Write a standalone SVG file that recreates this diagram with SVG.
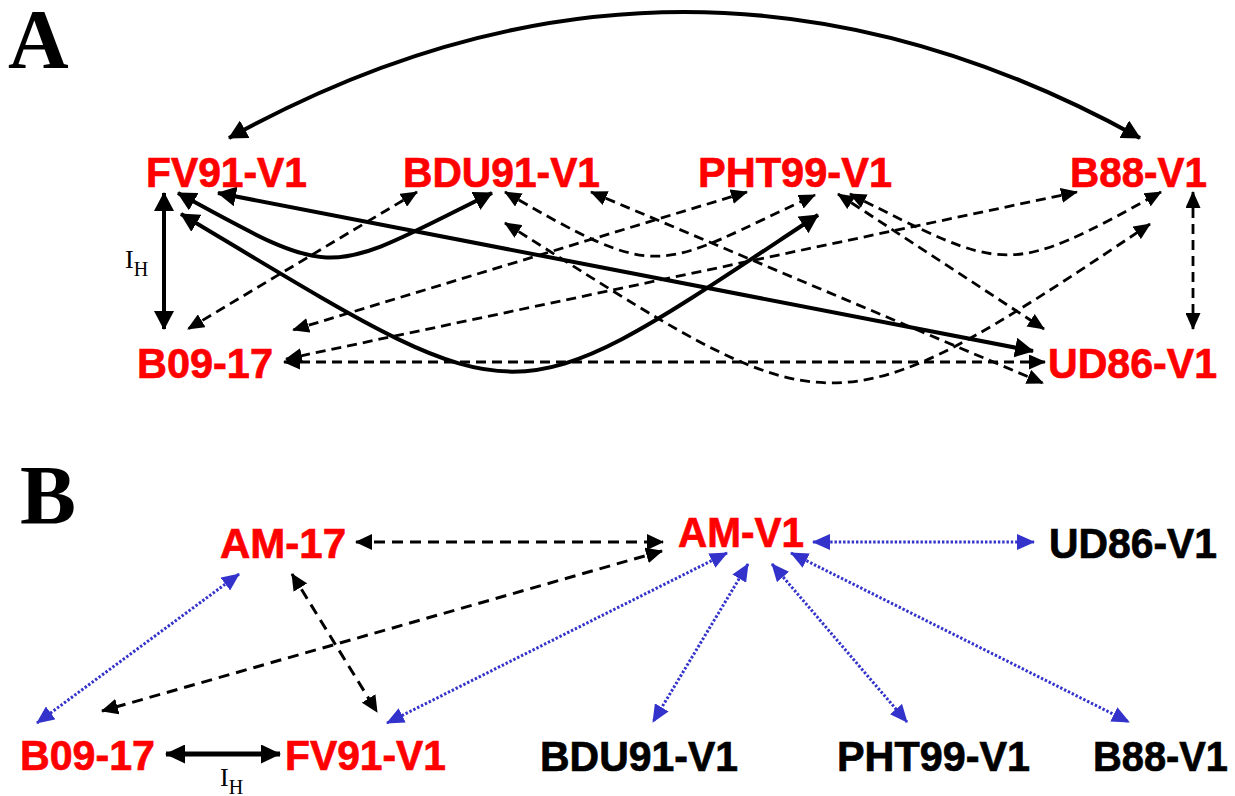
<svg xmlns="http://www.w3.org/2000/svg" width="1235" height="796" viewBox="0 0 1235 796">
<style>
.lbl{font-family:"Liberation Sans",Arial,sans-serif;font-weight:bold;font-size:42px;stroke-width:0.7}
.red{fill:#ff0000;stroke:#ff0000}
.blk{fill:#000000;stroke:#000000}
.panel{font-family:"Liberation Serif","Times New Roman",serif;font-weight:bold;font-size:84px;fill:#000}
.ih{font-family:"Liberation Serif","Times New Roman",serif;fill:#000}
.sA{fill:none;stroke:#000;stroke-width:4}
.dA{fill:none;stroke:#000;stroke-width:2.8;stroke-dasharray:10 6}
.dB{fill:none;stroke:#000;stroke-width:3;stroke-dasharray:11 7}
.bB{fill:none;stroke:#3333cc;stroke-width:3;stroke-dasharray:2.4 1.9}
.sB{fill:none;stroke:#000;stroke-width:5}
</style>
<defs>
<marker id="mSA" viewBox="0 0 19 20" refX="18" refY="10" markerWidth="19" markerHeight="20" markerUnits="userSpaceOnUse" orient="auto-start-reverse"><path d="M0,0 L19,10 L0,20 z" fill="#000"/></marker>
<marker id="mDA" viewBox="0 0 17 15" refX="16" refY="7.5" markerWidth="17" markerHeight="15" markerUnits="userSpaceOnUse" orient="auto-start-reverse"><path d="M0,0 L17,7.5 L0,15 z" fill="#000"/></marker>
<marker id="mDB" viewBox="0 0 17 16" refX="16" refY="8" markerWidth="17" markerHeight="16" markerUnits="userSpaceOnUse" orient="auto-start-reverse"><path d="M0,0 L17,8 L0,16 z" fill="#000"/></marker>
<marker id="mBB" viewBox="0 0 18 16" refX="17" refY="8" markerWidth="18" markerHeight="16" markerUnits="userSpaceOnUse" orient="auto-start-reverse"><path d="M0,0 L18,8 L0,16 z" fill="#3333cc"/></marker>
<marker id="mSB" viewBox="0 0 20 19" refX="19" refY="9.5" markerWidth="20" markerHeight="19" markerUnits="userSpaceOnUse" orient="auto-start-reverse"><path d="M0,0 L20,9.5 L0,19 z" fill="#000"/></marker>
</defs>
<rect width="1235" height="796" fill="#fff"/>

<text class="panel" x="8" y="68">A</text>
<text class="panel" x="20" y="524">B</text>

<g id="connectors">
  <!-- Panel A solid -->
  <path class="sA" d="M229,138 Q684,-114 1140,138" marker-start="url(#mSA)" marker-end="url(#mSA)"/>
  <path class="sA" d="M164,193 L164,329" marker-start="url(#mSA)" marker-end="url(#mSA)"/>
  <path class="sA" d="M178,193 C340,282 325,276 492,193" marker-start="url(#mSA)" marker-end="url(#mSA)"/>
  <path class="sA" d="M218,193 L1033,351" marker-start="url(#mSA)" marker-end="url(#mSA)"/>
  <path class="sA" d="M181,214 C532,424 501,424 818,215" marker-start="url(#mSA)" marker-end="url(#mSA)"/>
  <!-- Panel A dashed -->
  <path class="dA" d="M417,192 L188,329" marker-start="url(#mDA)" marker-end="url(#mDA)"/>
  <path class="dA" d="M747,192 L293,330" marker-start="url(#mDA)" marker-end="url(#mDA)"/>
  <path class="dA" d="M1077,192 L286,359" marker-start="url(#mDA)" marker-end="url(#mDA)"/>
  <path class="dA" d="M284,362 L1045,362" marker-start="url(#mDA)" marker-end="url(#mDA)"/>
  <path class="dA" d="M505,192 C665,285 655,269 815,195" marker-start="url(#mDA)" marker-end="url(#mDA)"/>
  <path class="dA" d="M591,192 L1043,383" marker-start="url(#mDA)" marker-end="url(#mDA)"/>
  <path class="dA" d="M505,223 C832,429 823,443 1150,224" marker-start="url(#mDA)" marker-end="url(#mDA)"/>
  <path class="dA" d="M838,194 L1044,329" marker-start="url(#mDA)" marker-end="url(#mDA)"/>
  <path class="dA" d="M850,194 C1006,272 1005,279 1161,192" marker-start="url(#mDA)" marker-end="url(#mDA)"/>
  <path class="dA" d="M1193,192 L1193,329" marker-start="url(#mDA)" marker-end="url(#mDA)"/>
  <!-- Panel B -->
  <path class="dB" d="M356,542 L663,542" marker-start="url(#mDB)" marker-end="url(#mDB)"/>
  <path class="dB" d="M662,551 L102,711" marker-start="url(#mDB)" marker-end="url(#mDB)"/>
  <path class="dB" d="M292,574 L377,712" marker-start="url(#mDB)" marker-end="url(#mDB)"/>
  <path class="bB" d="M239,574 L37,723" marker-start="url(#mBB)" marker-end="url(#mBB)"/>
  <path class="bB" d="M813,542 L1034,542" marker-start="url(#mBB)" marker-end="url(#mBB)"/>
  <path class="bB" d="M727,553 L387,723" marker-start="url(#mBB)" marker-end="url(#mBB)"/>
  <path class="bB" d="M748,564 L653,722" marker-start="url(#mBB)" marker-end="url(#mBB)"/>
  <path class="bB" d="M772,564 L907,722" marker-start="url(#mBB)" marker-end="url(#mBB)"/>
  <path class="bB" d="M791,553 L1129,722" marker-start="url(#mBB)" marker-end="url(#mBB)"/>
  <path class="sB" d="M166,754 L280,754" marker-start="url(#mSB)" marker-end="url(#mSB)"/>
</g>

<g id="ih-labels">
  <text class="ih" x="125" y="268" font-size="26">I<tspan font-size="20" dy="8">H</tspan></text>
  <text class="ih" x="220" y="786" font-size="26">I<tspan font-size="20" dy="8">H</tspan></text>
</g>

<g id="A-FV91-V1"><text class="lbl red" x="146" y="187" textLength="161" lengthAdjust="spacingAndGlyphs">FV91-V1</text></g>
<g id="A-BDU91-V1"><text class="lbl red" x="403" y="187" textLength="197" lengthAdjust="spacingAndGlyphs">BDU91-V1</text></g>
<g id="A-PHT99-V1"><text class="lbl red" x="698" y="187" textLength="194" lengthAdjust="spacingAndGlyphs">PHT99-V1</text></g>
<g id="A-B88-V1"><text class="lbl red" x="1070" y="187" textLength="137" lengthAdjust="spacingAndGlyphs">B88-V1</text></g>
<g id="A-B09-17"><text class="lbl red" x="137" y="378" textLength="136" lengthAdjust="spacingAndGlyphs">B09-17</text></g>
<g id="A-UD86-V1"><text class="lbl red" x="1048" y="378" textLength="169" lengthAdjust="spacingAndGlyphs">UD86-V1</text></g>

<g id="B-AM-17"><text class="lbl red" x="220" y="558" textLength="126" lengthAdjust="spacingAndGlyphs">AM-17</text></g>
<g id="B-AM-V1"><text class="lbl red" x="678" y="547" textLength="126" lengthAdjust="spacingAndGlyphs">AM-V1</text></g>
<g id="B-UD86-V1"><text class="lbl blk" x="1049" y="558" font-size="44" textLength="168" lengthAdjust="spacingAndGlyphs">UD86-V1</text></g>
<g id="B-B09-17"><text class="lbl red" x="20" y="770" textLength="135" lengthAdjust="spacingAndGlyphs">B09-17</text></g>
<g id="B-FV91-V1"><text class="lbl red" x="285" y="770" textLength="161" lengthAdjust="spacingAndGlyphs">FV91-V1</text></g>
<g id="B-BDU91-V1"><text class="lbl blk" x="540" y="771" font-size="44" textLength="198" lengthAdjust="spacingAndGlyphs">BDU91-V1</text></g>
<g id="B-PHT99-V1"><text class="lbl blk" x="837" y="771" font-size="44" textLength="193" lengthAdjust="spacingAndGlyphs">PHT99-V1</text></g>
<g id="B-B88-V1"><text class="lbl blk" x="1093" y="771" font-size="44" textLength="135" lengthAdjust="spacingAndGlyphs">B88-V1</text></g>
</svg>
